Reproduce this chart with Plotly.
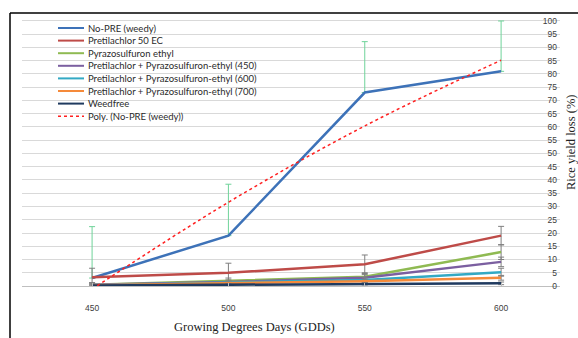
import plotly.graph_objects as go

gdd = [450, 500, 550, 600]
series_names = [
    "No-PRE (weedy)",
    "Pretilachlor 50 EC",
    "Pyrazosulfuron ethyl",
    "Pretilachlor + Pyrazosulfuron-ethyl (450)",
    "Pretilachlor + Pyrazosulfuron-ethyl (600)",
    "Pretilachlor + Pyrazosulfuron-ethyl (700)",
    "Weedfree",
]
no_pre = [3.0, 19.0, 73.0, 81.0]
pretilachlor = [3.3, 5.0, 8.2, 19.0]
pyrazosulfuron = [0.5, 2.0, 3.5, 12.8]
combo_450 = [0.5, 1.5, 3.1, 9.1]
combo_600 = [0.3, 1.2, 2.3, 5.2]
combo_700 = [0.3, 1.0, 1.8, 3.1]
weedfree = [0.2, 0.5, 0.8, 1.0]

no_pre_err = [19.4, 19.4, 19.2, 19.0]
pretilachlor_err = [3.4, 3.6, 3.5, 3.5]
pyrazosulfuron_err = [0.8, 1.0, 1.5, 2.8]
combo_450_err = [0.6, 0.8, 1.2, 1.8]
combo_600_err = [0.5, 0.6, 1.0, 1.5]
combo_700_err = [0.4, 0.5, 0.8, 0.9]
weedfree_err = [0.2, 0.3, 0.4, 0.5]

trend_name = "Poly. (No-PRE (weedy))"
trend_values = [-1.2, 31.6, 60.4, 85.2]

values = [no_pre, pretilachlor, pyrazosulfuron, combo_450, combo_600, combo_700, weedfree]
errors = [no_pre_err, pretilachlor_err, pyrazosulfuron_err, combo_450_err, combo_600_err, combo_700_err, weedfree_err]
colors = ["#3d72b8", "#be4b48", "#8fba52", "#7b5fa0", "#33a9c4", "#f58a3a", "#1f3a5f"]

fig = go.Figure()
for i, (name, vals, err, col) in enumerate(zip(series_names, values, errors, colors)):
    if i == 0:
        ey = dict(type="data", array=err, arrayminus=[0] * len(err), symmetric=False,
                  color="#6fd39a", thickness=1, width=3)
    else:
        ey = dict(type="data", array=err, color="#7f7f7f", thickness=1, width=3)
    fig.add_trace(go.Scatter(x=gdd, y=vals, name=name, mode="lines",
                             line=dict(color=col, width=2.5), error_y=ey,
                             showlegend=False))

fig.add_trace(go.Scatter(x=gdd, y=trend_values, name=trend_name, mode="lines",
                         line=dict(color="#ff2020", width=1.5, dash="dot", shape="spline"),
                         showlegend=False))

# Manual legend (compact, Excel-like)
W, H = 578, 338
L, R, T, B = 22, 18, 17, 52
pw, ph = W - L - R, H - T - B

def px2x(px):
    return (px - L) / pw

def px2y(py):
    return (H - B - py) / ph

legend_colors = colors + ["#ff2020"]
legend_names = series_names + [trend_name]
shapes = []
annotations = []
for k, (nm, col) in enumerate(zip(legend_names, legend_colors)):
    yy = 28 + k * 12.6
    shapes.append(dict(type="line", xref="paper", yref="paper",
                       x0=px2x(58), x1=px2x(84), y0=px2y(yy), y1=px2y(yy),
                       line=dict(color=col, width=2 if k < 7 else 1.5,
                                 dash="solid" if k < 7 else "dot")))
    annotations.append(dict(text=nm, xref="paper", yref="paper",
                            x=px2x(86), y=px2y(yy), xanchor="left", yanchor="middle",
                            showarrow=False,
                            font=dict(family="Lato", size=9.5, color="#2a2a2a")))

# chart border lines
shapes.append(dict(type="line", xref="paper", yref="paper",
                   x0=px2x(10), x1=px2x(10), y0=px2y(13), y1=px2y(340),
                   line=dict(color="#000000", width=1.5)))
shapes.append(dict(type="line", xref="paper", yref="paper",
                   x0=px2x(10), x1=px2x(580), y0=px2y(13), y1=px2y(13),
                   line=dict(color="#000000", width=1.5)))

annotations.append(dict(text="Growing Degrees Days (GDDs)", xref="paper", yref="paper",
                        x=px2x(254), y=px2y(327), xanchor="center", yanchor="middle",
                        showarrow=False,
                        font=dict(family="Liberation Serif", size=12.5, color="#222222")))
annotations.append(dict(text="Rice yield loss (%)", xref="paper", yref="paper",
                        x=px2x(571), y=px2y(143), xanchor="center", yanchor="middle",
                        textangle=-90, showarrow=False,
                        font=dict(family="Liberation Serif", size=12.5, color="#222222")))

fig.update_layout(
    width=W, height=H,
    margin=dict(l=L, r=R, t=T, b=B),
    paper_bgcolor="white", plot_bgcolor="white",
    shapes=shapes, annotations=annotations,
    showlegend=False,
    xaxis=dict(range=[424.3, 621.6], tickvals=gdd, ticktext=[str(g) for g in gdd],
               showgrid=False, zeroline=False, showline=True, linecolor="#bfbfbf",
               linewidth=1, ticks="inside", ticklen=3, tickcolor="#bfbfbf",
               ticklabelstandoff=14,
               tickfont=dict(family="Liberation Sans", size=8.5, color="#404040")),
    yaxis=dict(range=[0, 101.5], dtick=5, side="right", ticklabelposition="inside",
               ticklabeloverflow="allow",
               showgrid=True, gridcolor="#d9d9d9", gridwidth=1, zeroline=False,
               showline=False, ticks="",
               tickfont=dict(family="Liberation Sans", size=8.5, color="#404040")),
)

fig.write_html("out.html", config={"displayModeBar": False},
               post_script="document.body.style.margin='0';document.body.style.padding='0';")
